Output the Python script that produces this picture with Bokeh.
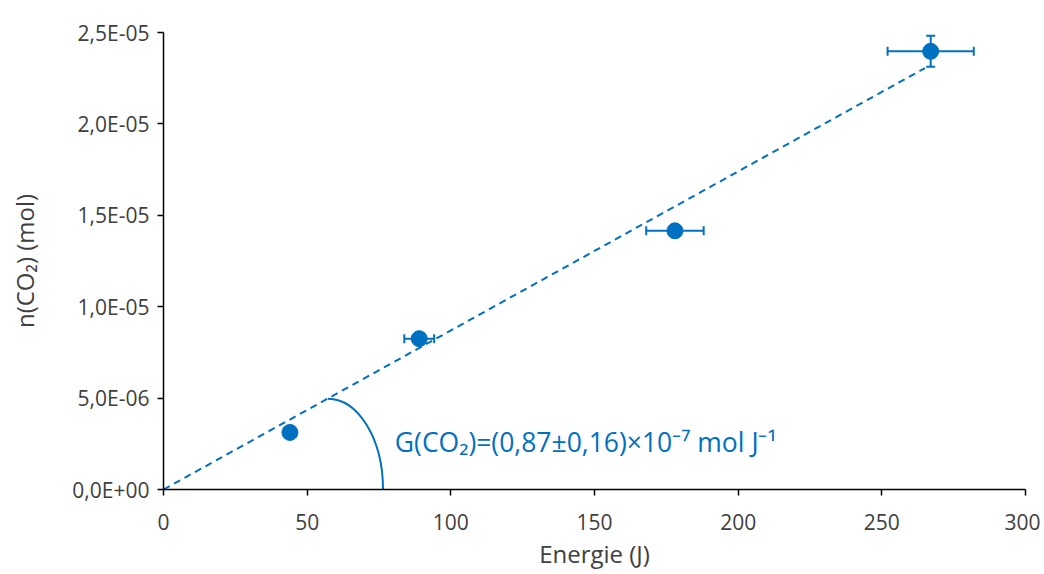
from bokeh.plotting import figure
from bokeh.models import (ColumnDataSource, Whisker, TeeHead, FixedTicker,
                          CustomJSTickFormatter, Range1d)
from bokeh.core.properties import value
from bokeh.embed import file_html
from bokeh.resources import INLINE

# ---- data ----
energy = [44.0, 89.0, 178.0, 267.0]
n_co2 = [3.12e-6, 8.25e-6, 1.415e-5, 2.397e-5]
energy_err = [2.0, 5.2, 10.0, 15.0]
n_co2_err = [1.0e-7, 1.5e-7, 2.0e-7, 8.5e-7]

fit_slope = 0.87e-7
fit_x = [0.0, 265.0]

x_ticks = [0, 50, 100, 150, 200, 250, 300]
y_ticks = [0.0, 5e-6, 1e-5, 1.5e-5, 2e-5, 2.5e-5]

# arc annotation (quarter ellipse from fit line down to the axis)
arc_top = (57.2, 4.97e-6)
arc_end = (76.4, 0.0)

annot_text = "G(CO\u2082)=(0,87\u00b10,16)\u00d710\u207b\u2077 mol J\u207b\u00b9"
annot_pos = (80.5, 2.62e-6)

BLUE = "#0070C0"
TXT = "#404040"
FONT = "Open Sans"

p = figure(width=1040, height=572, output_backend="svg", toolbar_location=None,
           x_range=Range1d(0, 300), y_range=Range1d(0, 2.5e-5),
           min_border_left=163, min_border_right=15, min_border_top=32,
           min_border_bottom=82)
p.outline_line_color = None
p.grid.visible = False
p.background_fill_color = "white"
p.border_fill_color = "white"

src = ColumnDataSource(dict(
    x=energy, y=n_co2,
    xl=[a - b for a, b in zip(energy, energy_err)],
    xu=[a + b for a, b in zip(energy, energy_err)],
    yl=[a - b for a, b in zip(n_co2, n_co2_err)],
    yu=[a + b for a, b in zip(n_co2, n_co2_err)],
))

# fit line
fit_y = [fit_slope * v for v in fit_x]
p.line(fit_x, fit_y, line_color=BLUE, line_width=2, line_dash="7 5")

# error bars
wx = Whisker(source=src, base="y", lower="xl", upper="xu", dimension="width",
             line_color=BLUE, line_width=2,
             lower_head=TeeHead(size=9, line_color=BLUE, line_width=2),
             upper_head=TeeHead(size=9, line_color=BLUE, line_width=2))
wy = Whisker(source=src, base="x", lower="yl", upper="yu", dimension="height",
             line_color=BLUE, line_width=2,
             lower_head=TeeHead(size=9, line_color=BLUE, line_width=2),
             upper_head=TeeHead(size=9, line_color=BLUE, line_width=2))
p.add_layout(wx)
p.add_layout(wy)

p.scatter("x", "y", source=src, size=16, fill_color=BLUE, line_color=BLUE)

# arc
k = 0.5523
x0, y0 = arc_top
x1, y1 = arc_end
p.bezier(x0=[x0], y0=[y0], x1=[x1], y1=[y1],
         cx0=[x0 + k * (x1 - x0)], cy0=[y0],
         cx1=[x1], cy1=[y1 + k * (y0 - y1)],
         line_color=BLUE, line_width=2)

p.text(x=[annot_pos[0]], y=[annot_pos[1]], text=[annot_text],
       text_font=value(FONT), text_font_size="26.5px", text_color=BLUE,
       text_baseline="alphabetic", text_align="left")

# axes
for ax in (p.xaxis[0], p.yaxis[0]):
    ax.axis_line_color = "#000000"
    ax.axis_line_width = 1.5
    ax.major_tick_line_color = "#000000"
    ax.major_tick_line_width = 1.5
    ax.minor_tick_line_color = None
    ax.major_tick_in = 0
    ax.major_tick_out = 6
    ax.major_label_text_color = TXT
    ax.major_label_text_font = FONT
    ax.major_label_text_font_size = "21px"
    ax.axis_label_text_color = TXT
    ax.axis_label_text_font = FONT
    ax.axis_label_text_font_size = "24px"
    ax.axis_label_text_font_style = "normal"

p.xaxis.ticker = FixedTicker(ticks=x_ticks)
p.yaxis.ticker = FixedTicker(ticks=y_ticks)
p.xaxis.axis_label = "Energie (J)"
p.yaxis.axis_label = "n(CO\u2082) (mol)"
p.xaxis.major_label_standoff = 18
p.yaxis.major_label_standoff = 8
p.xaxis.axis_label_standoff = 4
p.yaxis.axis_label_standoff = 28

p.yaxis.formatter = CustomJSTickFormatter(code="""
const s = tick.toExponential(1);
const parts = s.split('e');
const e = parts[1];
const sign = e[0] === '-' ? '-' : '+';
let d = e.replace('-', '').replace('+', '');
if (d.length < 2) d = '0' + d;
return parts[0].replace('.', ',') + 'E' + sign + d;
""")

open("out.html", "w").write(file_html(p, INLINE))
